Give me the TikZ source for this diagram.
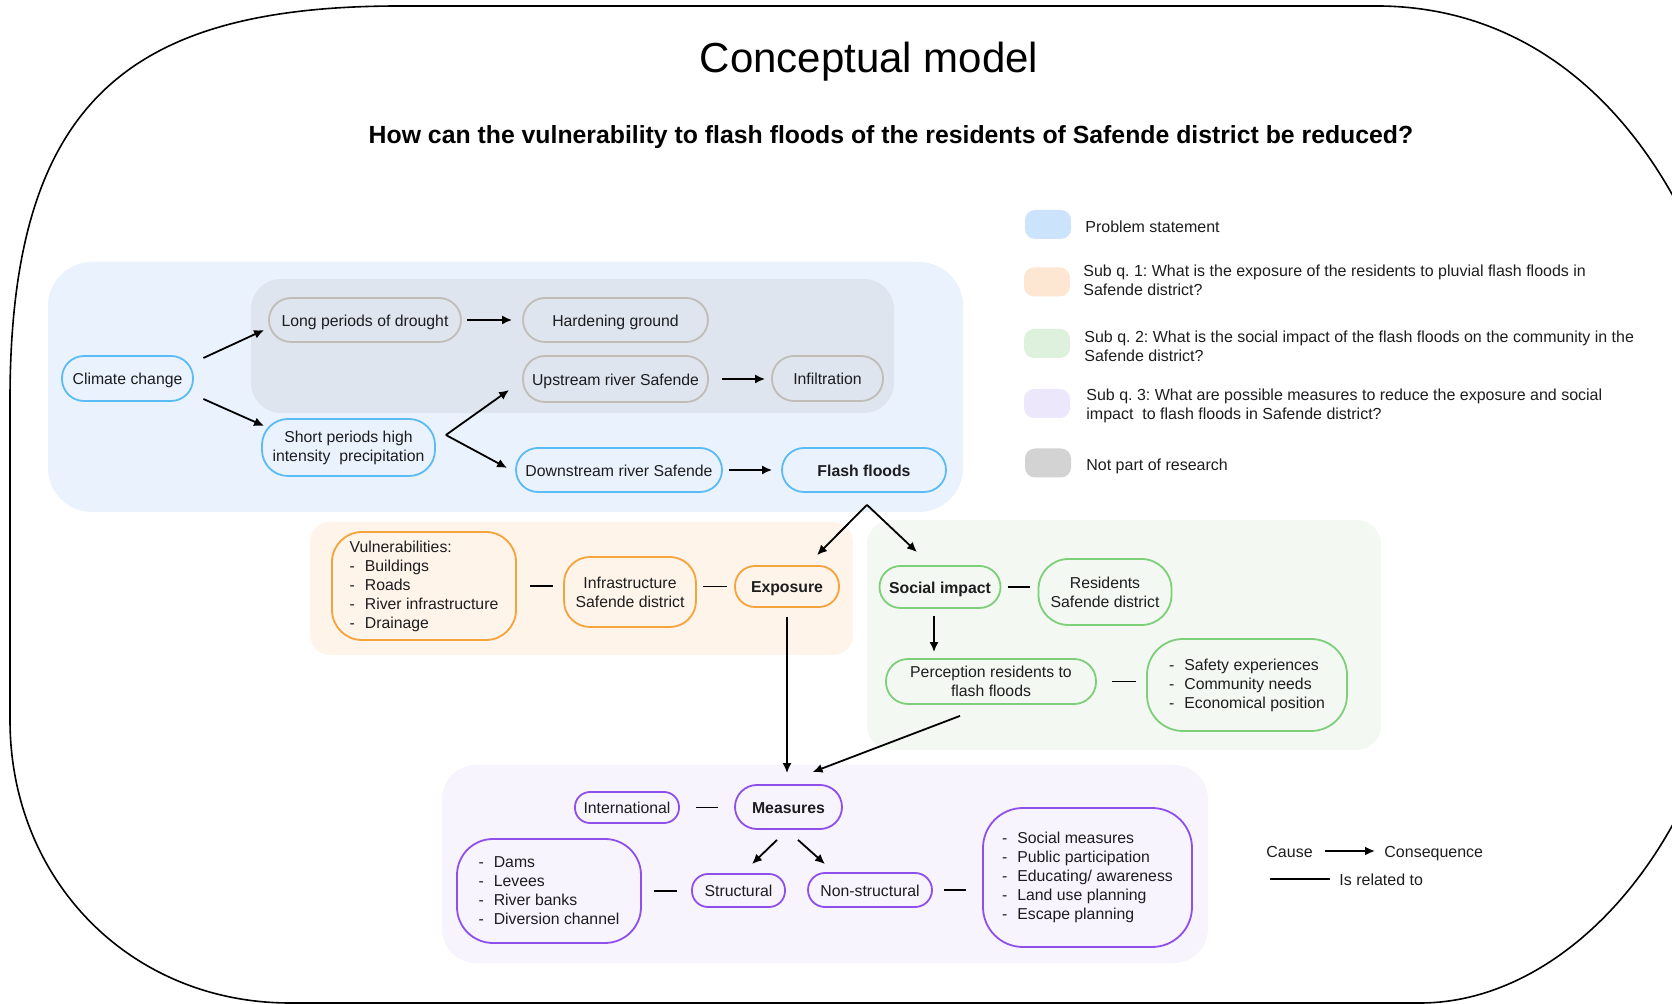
\documentclass[tikz,border=0pt]{standalone}
\usepackage{fontspec}
\setmainfont{Liberation Sans}
\usetikzlibrary{arrows.meta}
\frenchspacing

\definecolor{txt}{HTML}{1D1D1F}
\definecolor{bluebg}{HTML}{EAF3FD}
\definecolor{graybg}{HTML}{DEE5EE}
\definecolor{orangebg}{HTML}{FEF4EA}
\definecolor{greenbg}{HTML}{F3F8F3}
\definecolor{purplebg}{HTML}{F8F4FD}
\definecolor{bluel}{HTML}{5ABBF5}
\definecolor{grayl}{HTML}{C0BDB8}
\definecolor{orangel}{HTML}{F5A33B}
\definecolor{greenl}{HTML}{7DCF79}
\definecolor{purplel}{HTML}{8E4FEA}
\definecolor{blues}{HTML}{CBE4FB}
\definecolor{oranges}{HTML}{FDE6D2}
\definecolor{greens}{HTML}{DDF1DD}
\definecolor{purples}{HTML}{EDE7FB}
\definecolor{grays}{HTML}{D3D3D3}

\newcommand\nfont{\fontsize{7.9}{9.5}\selectfont}
\newcommand\lfont{\fontsize{8}{9.5}\selectfont}
\newcommand\itm[1]{\makebox[7.6pt][l]{-}#1}

\begin{document}
\begin{tikzpicture}[x=0.5pt, y=-0.5pt, >={Latex[length=5pt,width=4.5pt]},
    nd/.style={draw, line width=0.9pt, inner sep=0pt, align=center, font=\nfont, text=txt},
    one/.style={text height=7pt, text depth=0.5pt},
    sz/.style 2 args={minimum width=#1, minimum height=#2},
    blu/.style={nd, draw=bluel},
    gry/.style={nd, draw=grayl},
    org/.style={nd, draw=orangel},
    grn/.style={nd, draw=greenl},
    prp/.style={nd, draw=purplel},
    arr/.style={->, line width=0.9pt, black},
    rel/.style={line width=0.9pt, black},
    lgd/.style={inner sep=0pt, font=\lfont, text=txt, align=left},
    swatch/.style={draw=none, inner sep=0pt, minimum width=23pt, minimum height=14.5pt, rounded corners=5pt}]
%      \draw [help lines, step=50] (0,0) grid (1672,1004);
      \clip (0,0) rectangle (1672,1004);

      % outer frame
      \draw [line width=0.8pt] (10,400) .. controls (10,100) and (130,6) .. (400,6) -- (1380,6)
        .. controls (1560,8) and (1680,150) .. (1730,340) -- (1730,660)
        .. controls (1695,860) and (1560,1003) .. (1420,1003) -- (290,1003)
        .. controls (130,1003) and (10,880) .. (10,720) -- cycle;

      \node [font=\fontsize{21}{25}\selectfont, text=black] (title) at (869,62) {Conceptual model};
      \node [font=\fontsize{12.4}{15}\selectfont\bfseries, text=black] (question) at (891,137)
        {How can the vulnerability to flash floods of the residents of Safende district be reduced?};

      % coloured regions
      \fill [bluebg, rounded corners=22pt] (48,262) rectangle (963,512);
      \fill [graybg, rounded corners=15pt] (251,279) rectangle (894,413);
      \fill [orangebg, rounded corners=10pt] (310,522) rectangle (853,655);
      \fill [greenbg, rounded corners=12pt] (867,520) rectangle (1381,750);
      \fill [purplebg, rounded corners=17pt] (442,765) rectangle (1208,963);

      % problem statement
      \node [blu, one, sz={65.5pt}{22.5pt}, rounded corners=11pt] (clim) at (127.5,378.5) {Climate change};
      \node [gry, one, sz={96pt}{22pt}, rounded corners=11pt] (long) at (365,320) {Long periods of drought};
      \node [gry, one, sz={92.5pt}{22pt}, rounded corners=11pt] (hard) at (615.5,320) {Hardening ground};
      \node [gry, one, sz={92.5pt}{23pt}, rounded corners=11pt] (up) at (615.5,379) {Upstream river Safende};
      \node [gry, one, sz={55.5pt}{22.5pt}, rounded corners=11pt] (inf) at (827.5,378.5) {Infiltration};
      \node [blu, sz={86.5pt}{28.5pt}, rounded corners=13pt] (short) at (348.5,447.5)
        {Short periods high\\intensity~ precipitation};
      \node [blu, one, sz={103pt}{22pt}, rounded corners=11pt] (down) at (619,470) {Downstream river Safende};
      \node [blu, one, sz={82pt}{22pt}, rounded corners=11pt, font=\nfont\bfseries] (flash) at (864,470) {Flash floods};

      \draw [arr] ([xshift=4.75pt,yshift=10.25pt]clim.east) -- ([xshift=-2pt,yshift=-5pt]long.west);
      \draw [arr] ([xshift=4.75pt,yshift=-10.25pt]clim.east) -- ([xshift=1.5pt,yshift=10.75pt]short.west);
      \draw [arr, shorten <=2.5pt, shorten >=5pt] (long.east) -- (hard.west);
      \draw [arr] ([xshift=5pt,yshift=6.25pt]short.east) -- ([xshift=-6.5pt,yshift=-5.5pt]up.west);
      \draw [arr] ([xshift=5pt,yshift=6.25pt]short.east) -- ([xshift=-4pt,yshift=1pt]down.west);
      \draw [arr, shorten <=6.5pt, shorten >=3pt] (up.east) -- (up.east -| inf.west);
      \draw [arr, shorten <=3pt, shorten >=4.5pt] (down.east) -- (flash.west);

      % sub q. 1: exposure
      \node [org, sz={92pt}{54pt}, rounded corners=15pt, align=left] (vuln) at (424,586)
        {Vulnerabilities:\\\itm{Buildings}\\\itm{Roads}\\\itm{River infrastructure}\\\itm{Drainage}};
      \node [org, sz={66pt}{35pt}, rounded corners=13pt] (infra) at (630,592) {Infrastructure\\Safende district};
      \node [org, one, sz={52pt}{20.5pt}, rounded corners=10pt, font=\nfont\bfseries] (expo) at (787,586.5) {Exposure};

      \draw [rel, shorten <=6.5pt, shorten >=5pt] (vuln.east) -- (vuln.east -| infra.west);
      \draw [rel, shorten <=3.25pt, shorten >=3.75pt] (infra.east |- expo.west) -- (expo.west);

      % sub q. 2: social impact
      \node [grn, one, sz={60.5pt}{21pt}, rounded corners=10.5pt, font=\nfont\bfseries] (soc) at (940,587) {Social impact};
      \node [grn, sz={66.5pt}{33pt}, rounded corners=15pt] (res) at (1105,592) {Residents\\Safende district};
      \node [grn, sz={105pt}{22.5pt}, rounded corners=11pt] (perc) at (991,681.5) {Perception residents to\\flash floods};
      \node [grn, sz={100pt}{46pt}, rounded corners=18pt, align=left] (safe) at (1247,685)
        {\itm{Safety experiences}\\\itm{Community needs}\\\itm{Economical position}};

      \draw [arr] ([xshift=1.5pt,yshift=-6pt]flash.south) -- ([xshift=15pt,yshift=5pt]expo.north);
      \draw [arr] ([xshift=1.5pt,yshift=-6pt]flash.south) -- ([xshift=-11.5pt,yshift=6.5pt]soc.north);
      \draw [rel, shorten <=3.25pt, shorten >=3.75pt] (soc.east) -- (soc.east -| res.west);
      \draw [arr, shorten <=3.5pt, shorten >=3pt] ([xshift=-3pt]soc.south) -- ([xshift=-3pt]soc.south |- perc.north);
      \draw [rel, shorten <=7.5pt, shorten >=5pt] (perc.east) -- (perc.east -| safe.west);

      % sub q. 3: measures
      \node [prp, one, sz={52pt}{15.5pt}, rounded corners=7.5pt] (intl) at (627,807.5) {International};
      \node [prp, one, sz={53.5pt}{22pt}, rounded corners=11pt, font=\nfont\bfseries] (meas) at (788.5,807) {Measures};
      \node [prp, one, sz={46.5pt}{16.5pt}, rounded corners=8pt] (struct) at (738.5,890.5) {Structural};
      \node [prp, one, sz={62pt}{17pt}, rounded corners=8.5pt] (nonstr) at (870,890) {Non-structural};
      \node [prp, sz={92pt}{52pt}, rounded corners=18pt, align=left] (dams) at (549,891)
        {\itm{Dams}\\\itm{Levees}\\\itm{River banks}\\\itm{Diversion channel}};
      \node [prp, sz={104.5pt}{69.5pt}, rounded corners=20pt, align=left] (socm) at (1087.5,877.5)
        {\itm{Social measures}\\\itm{Public participation}\\\itm{Educating/ awareness}\\\itm{Land use planning}\\\itm{Escape planning}};

      \draw [arr, shorten <=4.5pt, shorten >=5.5pt] (expo.south) -- (expo.south |- meas.north);
      \draw [arr] ([xshift=-15.5pt,yshift=-5.5pt]perc.south) -- ([xshift=12pt,yshift=6pt]meas.north);
      \draw [rel, shorten <=8pt, shorten >=8.25pt] (intl.east) -- (intl.east -| meas.west);
      \draw [arr] ([xshift=-5.75pt,yshift=-5pt]meas.south) -- ([xshift=6.75pt,yshift=4.5pt]struct.north);
      \draw [arr] ([xshift=4.75pt,yshift=-5pt]meas.south) -- ([xshift=-22.5pt,yshift=4pt]nonstr.north);
      \draw [rel, shorten <=6pt, shorten >=7pt] (dams.east) -- (dams.east -| struct.west);
      \draw [rel, shorten <=5.5pt, shorten >=8pt] (nonstr.east) -- (nonstr.east -| socm.west);

      % legend
      \node [swatch, fill=blues] (sw1) at (1048,224.5) {};
      \node [swatch, fill=oranges] (sw2) at (1047,282) {};
      \node [swatch, fill=greens] (sw3) at (1047,343.5) {};
      \node [swatch, fill=purples] (sw4) at (1047,403.5) {};
      \node [swatch, fill=grays] (sw5) at (1048,463) {};
      \node [lgd, one, anchor=west] (l1) at (1085,226) {Problem statement};
      \node [lgd, anchor=west] (l2) at (1083,280.5)
        {Sub q. 1: What is the exposure of the residents to pluvial flash floods in\\Safende district?};
      \node [lgd, anchor=west] (l3) at (1084,346.5)
        {Sub q. 2: What is the social impact of the flash floods on the community in the\\Safende district?};
      \node [lgd, anchor=west] (l4) at (1086,405.5)
        {Sub q. 3: What are possible measures to reduce the exposure and social\\impact~ to flash floods in Safende district?};
      \node [lgd, one, anchor=west] (l5) at (1086,464) {Not part of research};

      \node [lgd, one, anchor=west] (causetxt) at (1266,851) {Cause};
      \node [lgd, one, anchor=west] (constxt) at (1384,851) {Consequence};
      \draw [arr, shorten <=6pt, shorten >=4.5pt] (causetxt.east) -- (constxt.west);
      \coordinate (relstart) at (1270,879);
      \node [lgd, one, anchor=west] (reltxt) at (1339,879) {Is related to};
      \draw [rel, shorten >=4.5pt] (relstart) -- (reltxt.west);
\end{tikzpicture}
\end{document}
